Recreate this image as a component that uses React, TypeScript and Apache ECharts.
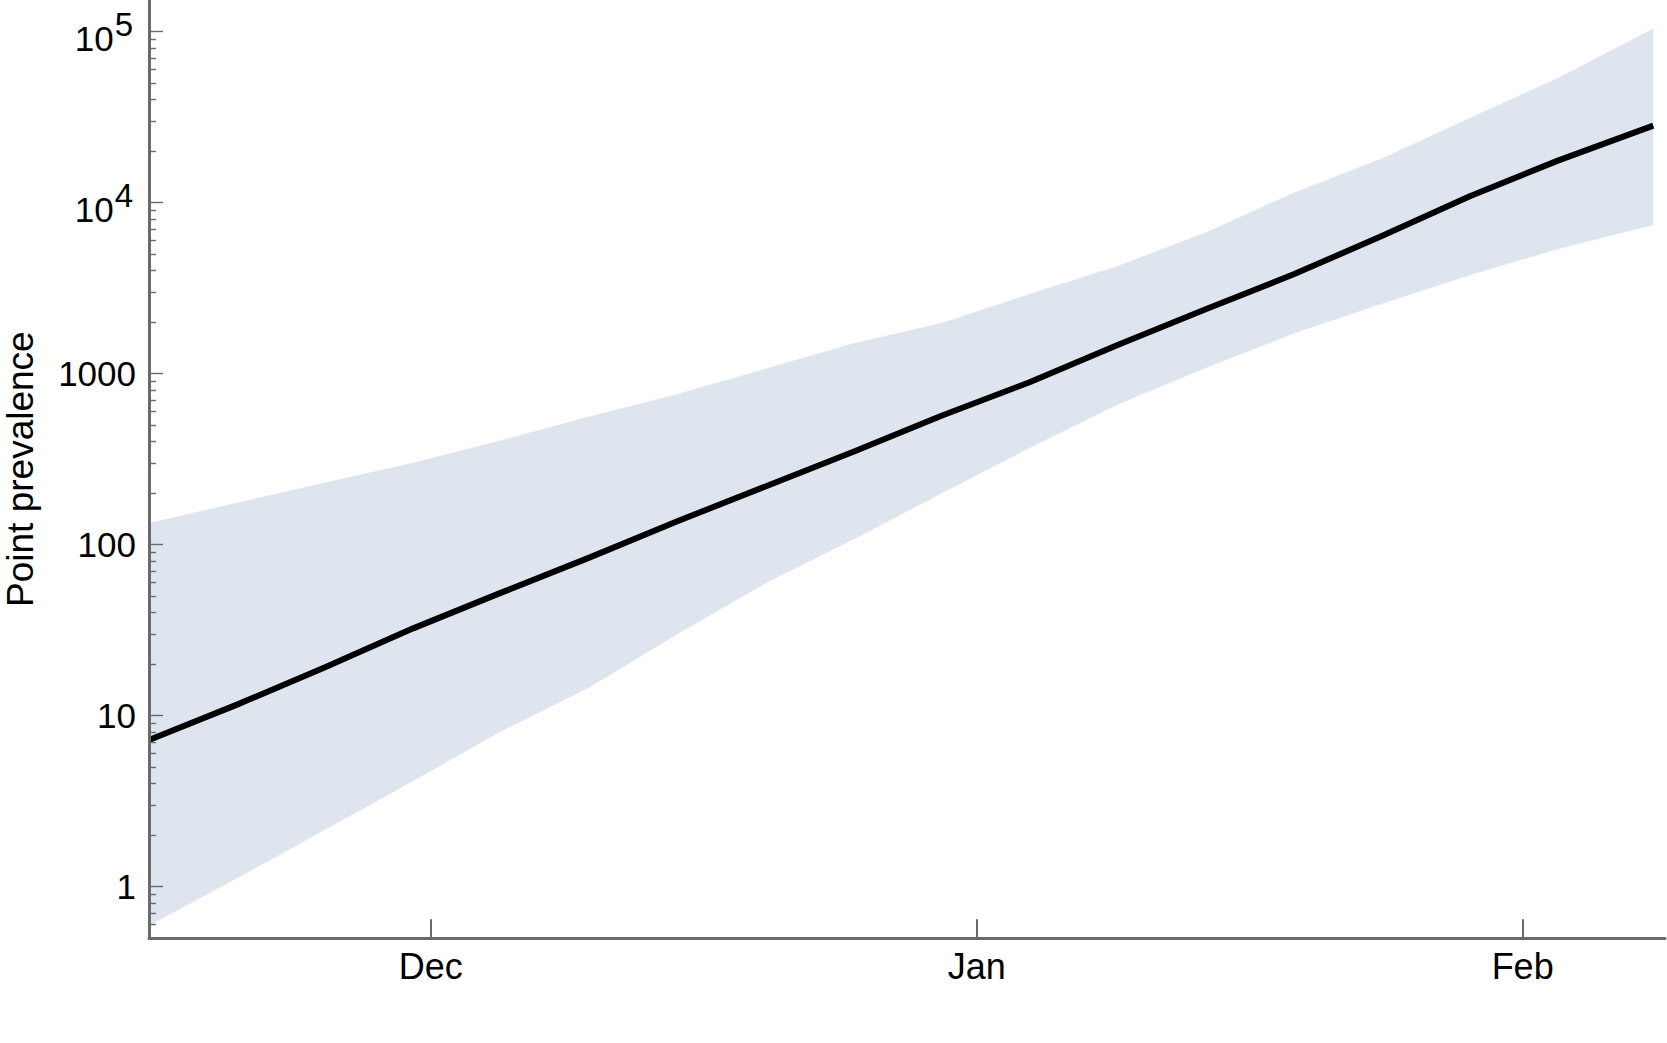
import React, { useEffect, useRef } from "react";
import * as echarts from "echarts";

// Dates of the estimates (UTC)
const dates = [
  "2020-11-15", "2020-11-20", "2020-11-25", "2020-11-30", "2020-12-05", "2020-12-10",
  "2020-12-15", "2020-12-20", "2020-12-25", "2020-12-30", "2021-01-04", "2021-01-09",
  "2021-01-14", "2021-01-19", "2021-01-24", "2021-01-29", "2021-02-03", "2021-02-08T10:00:00Z",
];

// Median point prevalence
const median = [7.2, 11.6, 19.2, 32.4, 52.4, 84, 137, 219, 349, 567, 891, 1470, 2380, 3810, 6380, 10900, 17600, 28200];

// Upper bound of the uncertainty band
const upper = [134, 176, 231, 301, 408, 561, 759, 1067, 1507, 1977, 2924, 4266, 6683, 11430, 18110, 31260, 53580, 104200];

// Lower bound of the uncertainty band
const lower = [0.59, 1.12, 2.15, 4.15, 8.1, 14.6, 29.9, 59.4, 107, 199, 367, 659, 1079, 1718, 2564, 3767, 5346, 7396];

// Axis ticks
const yTickValues = [1, 10, 100, 1000, 10000, 100000];
const yTickLabels = ["1", "10", "100", "1000", "10^4", "10^5"];
const xTickDates = ["2020-12-01", "2021-01-01", "2021-02-01"];
const xTickLabels = ["Dec", "Jan", "Feb"];

const xMinDate = "2020-11-15";
const xMaxDate = "2021-02-09T02:00:00Z";
const yMinValue = 0.4989;
const yMaxValue = 153100;

export default function App() {
  const ref = useRef<HTMLDivElement>(null);

  useEffect(() => {
    const chart = echarts.init(ref.current!, null, { renderer: "svg" });
    const t = dates.map((d) => Date.parse(d));
    const lg = (v: number) => Math.log10(v);
    const yMin = lg(yMinValue);
    const yMax = lg(yMaxValue);
    const majorVals = yTickValues.map(lg);
    const minorVals: number[] = [];
    for (let d = -1; d <= 5; d++) {
      for (let k = 2; k <= 9; k++) {
        const v = d + Math.log10(k);
        if (v > yMin + 0.01 && v < yMax) minorVals.push(v);
      }
    }
    const xTicks = xTickDates.map((d) => Date.parse(d));
    const axisColor = "#6a6a6a";
    const font = "'Liberation Sans', Arial, Helvetica, sans-serif";

    const lowLog = lower.map(lg);
    const upLog = upper.map(lg);
    const bandData = t.map((x, i) => [x, lowLog[i], upLog[i]]);
    const medianData = t.map((x, i) => [x, lg(median[i])]);

    chart.setOption({
      animation: false,
      backgroundColor: "#ffffff",
      grid: {
        left: 149,
        right: 2,
        top: 0,
        bottom: 104.7,
        containLabel: false,
        outerBoundsMode: "none",
      },
      xAxis: {
        type: "value",
        min: Date.parse(xMinDate),
        max: Date.parse(xMaxDate),
        z: 5,
        axisLine: { show: true, onZero: false, lineStyle: { color: axisColor, width: 3 } },
        axisTick: {
          show: true,
          inside: true,
          length: 19,
          customValues: xTicks,
          lineStyle: { color: axisColor, width: 2 },
        },
        axisLabel: {
          customValues: xTicks,
          formatter: (v: number) => {
            const i = xTicks.findIndex((x) => Math.abs(x - v) < 1000);
            return i >= 0 ? xTickLabels[i] : "";
          },
          margin: 10,
          fontSize: 36,
          color: "#000",
          fontFamily: font,
        },
        splitLine: { show: false },
      },
      yAxis: [
        {
          type: "value",
          position: "left",
          min: yMin,
          max: yMax,
          z: 5,
          axisLine: { show: true, onZero: false, lineStyle: { color: axisColor, width: 3 } },
          axisTick: {
            show: true,
            inside: true,
            length: 14,
            customValues: majorVals,
            lineStyle: { color: axisColor, width: 1.4 },
          },
          axisLabel: {
            customValues: majorVals,
            margin: 13,
            fontSize: 35,
            color: "#000",
            fontFamily: font,
            formatter: (v: number) => {
              const i = majorVals.findIndex((m) => Math.abs(m - v) < 1e-6);
              if (i < 0) return "";
              const s = yTickLabels[i];
              if (s.includes("^")) {
                const [b, e] = s.split("^");
                return `{b|${b}}{s|${e}}`;
              }
              return s;
            },
            rich: {
              b: { fontSize: 35, lineHeight: 48, verticalAlign: "bottom", color: "#000", fontFamily: font },
              s: {
                fontSize: 33,
                lineHeight: 48,
                verticalAlign: "top",
                padding: [0, 3, 0, 1],
                color: "#000",
                fontFamily: font,
              },
            },
          },
          name: "Point prevalence",
          nameLocation: "middle",
          nameGap: 110,
          nameTextStyle: { fontSize: 37, color: "#000", fontFamily: font },
          splitLine: { show: false },
        },
        {
          type: "value",
          position: "left",
          min: yMin,
          max: yMax,
          z: 5,
          axisLine: { show: false, onZero: false },
          axisTick: {
            show: true,
            inside: true,
            length: 7,
            customValues: minorVals,
            lineStyle: { color: axisColor, width: 1.4 },
          },
          axisLabel: { show: false },
          splitLine: { show: false },
        },
      ],
      series: [
        {
          name: "band",
          type: "custom",
          data: bandData,
          encode: { x: 0, y: [1, 2] },
          clip: true,
          silent: true,
          z: 1,
          renderItem: (params: any, api: any) => {
            if (params.dataIndex !== 0) return null;
            const pts: number[][] = [];
            for (let i = 0; i < t.length; i++) pts.push(api.coord([t[i], upLog[i]]));
            for (let i = t.length - 1; i >= 0; i--) pts.push(api.coord([t[i], lowLog[i]]));
            return {
              type: "polygon",
              shape: { points: pts },
              style: { fill: "#dfe5ef", stroke: null },
            };
          },
        },
        {
          name: "median",
          type: "line",
          data: medianData,
          symbol: "none",
          lineStyle: { color: "#000", width: 6, join: "round" },
          z: 3,
        },
      ],
    });

    return () => chart.dispose();
  }, []);

  return (
    <div
      ref={ref}
      style={{ position: "absolute", left: 0, top: 0, width: 1667, height: 1043, background: "#fff" }}
    />
  );
}
